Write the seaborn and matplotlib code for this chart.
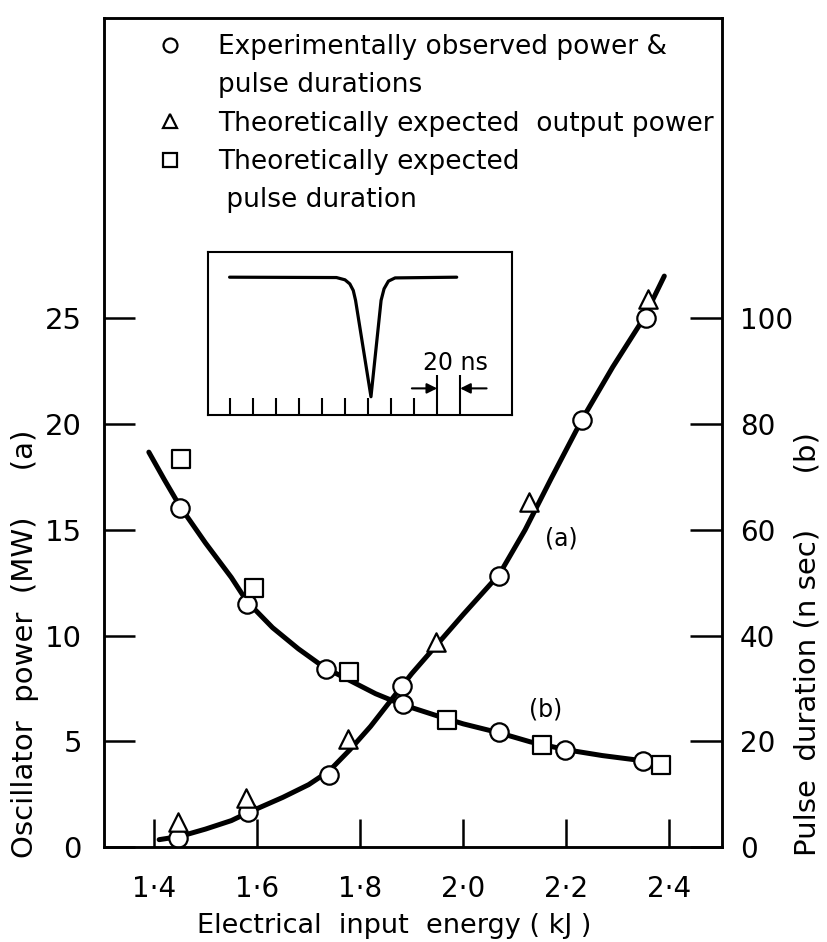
import matplotlib
matplotlib.use('Agg')
import matplotlib.pyplot as plt
import seaborn as sns
from matplotlib.lines import Line2D

# ---- data ----
# (a) oscillator power, MW (left axis)
power_exp_x = [1.447, 1.583, 1.740, 1.882, 2.070, 2.230, 2.355]
power_exp_y = [0.45, 1.65, 3.4, 7.6, 12.8, 20.2, 25.0]
power_theory_x = [1.447, 1.578, 1.777, 1.948, 2.127, 2.358]
power_theory_y = [1.2, 2.3, 5.1, 9.7, 16.3, 25.9]
power_curve_x = [1.41, 1.45, 1.50, 1.55, 1.58, 1.65, 1.70, 1.74, 1.78, 1.82, 1.86,
                 1.90, 1.95, 2.00, 2.07, 2.12, 2.17, 2.23, 2.29, 2.35, 2.39]
power_curve_y = [0.35, 0.50, 0.85, 1.25, 1.6, 2.35, 2.95, 3.6, 4.6, 5.7, 6.95,
                 8.2, 9.6, 11.0, 12.9, 15.0, 17.4, 20.2, 22.7, 25.0, 27.0]

# (b) pulse duration, ns (right axis)
pulse_exp_x = [1.451, 1.580, 1.733, 1.883, 2.070, 2.198, 2.348]
pulse_exp_y = [64.1, 45.9, 33.6, 27.0, 21.8, 18.4, 16.3]
pulse_theory_x = [1.453, 1.594, 1.778, 1.968, 2.152, 2.383]
pulse_theory_y = [73.4, 49.0, 33.1, 24.0, 19.3, 15.5]
pulse_curve_x = [1.39, 1.42, 1.45, 1.50, 1.55, 1.58, 1.63, 1.68, 1.73, 1.78,
                 1.83, 1.88, 1.95, 2.00, 2.07, 2.13, 2.20, 2.27, 2.35]
pulse_curve_y = [74.7, 69.5, 64.5, 57.5, 51.0, 46.5, 41.5, 37.5, 34.0, 31.5,
                 29.0, 27.0, 24.8, 23.3, 21.6, 19.9, 18.4, 17.3, 16.3]

# oscilloscope trace in the inset (time in graticule divisions, normalised signal)
trace_t = [-0.03, 4.62, 4.99, 5.20, 5.35, 5.45, 6.12, 6.56, 6.69, 6.88, 7.17, 9.85]
trace_v = [0, -0.003, -0.022, -0.056, -0.111, -0.194, -1.0, -0.194, -0.097, -0.033, -0.006, 0]

x_ticks = [1.4, 1.6, 1.8, 2.0, 2.2, 2.4]
x_ticklabels = ['1·4', '1·6', '1·8', '2·0', '2·2', '2·4']
power_ticks = [0, 5, 10, 15, 20, 25]
pulse_ticks = [0, 20, 40, 60, 80, 100]

sns.set_theme(style='ticks', rc={'text.color': 'black', 'axes.labelcolor': 'black',
                                 'xtick.color': 'black', 'ytick.color': 'black',
                                 'axes.edgecolor': 'black'})
plt.rcParams['font.family'] = ['DejaVu Sans']
plt.rcParams['axes.linewidth'] = 1.8

fig = plt.figure(figsize=(8.28, 9.42), dpi=100)
ax = fig.add_axes([0.1256, 0.1008, 0.7464, 0.880])
ax2 = ax.twinx()

marker_kw = dict(facecolor='white', edgecolor='black', linewidth=1.6, s=175, zorder=5, legend=False)

sns.lineplot(x=power_curve_x, y=power_curve_y, ax=ax, color='black', lw=3.6, sort=False)
sns.scatterplot(x=power_exp_x, y=power_exp_y, ax=ax, marker='o', **marker_kw)
sns.scatterplot(x=power_theory_x, y=power_theory_y, ax=ax, marker='^', **marker_kw)

sns.lineplot(x=pulse_curve_x, y=pulse_curve_y, ax=ax2, color='black', lw=3.6, sort=False)
sns.scatterplot(x=pulse_exp_x, y=pulse_exp_y, ax=ax2, marker='o', **marker_kw)
sns.scatterplot(x=pulse_theory_x, y=pulse_theory_y, ax=ax2, marker='s', **marker_kw)

ax.set_xlim(1.303, 2.502)
ax.set_ylim(0, 39.2)
ax2.set_ylim(0, 39.2 * 4)

ax.set_xticks(x_ticks)
ax.set_xticklabels(x_ticklabels)
ax.set_yticks(power_ticks)
ax.set_yticklabels([str(t) for t in power_ticks])
ax2.set_yticks(pulse_ticks)
ax2.set_yticklabels([str(t) for t in pulse_ticks])

ax.tick_params(axis='x', direction='in', length=20, width=1.8, labelsize=20, pad=20)
ax.tick_params(axis='y', direction='in', length=22, width=1.8, labelsize=21, pad=16)
ax2.tick_params(axis='y', direction='in', length=23, width=1.8, labelsize=20, pad=13)
for a in (ax, ax2):
    for s in a.spines.values():
        s.set_linewidth(1.8)
        s.set_color('black')

ax.set_xlabel('Electrical  input  energy ( kJ )', fontsize=19.5)
ax.xaxis.set_label_coords(0.47, -0.080)
ax.set_ylabel('Oscillator  power  (MW)     (a)', fontsize=21)
ax.yaxis.set_label_coords(-0.105, 0.245)
ax2.set_ylabel('Pulse  duration (n sec)      (b)', fontsize=21)
ax2.yaxis.set_label_coords(1.115, 0.245)

ax.text(2.19, 14.6, '(a)', fontsize=17, ha='center', va='center')
ax.text(2.16, 6.5, '(b)', fontsize=17, ha='center', va='center')

# legend at the top of the frame
handles = [
    Line2D([], [], ls='none', marker='o', ms=10, mfc='white', mec='black', mew=1.6),
    Line2D([], [], ls='none'),
    Line2D([], [], ls='none', marker='^', ms=10, mfc='white', mec='black', mew=1.6),
    Line2D([], [], ls='none', marker='s', ms=10, mfc='white', mec='black', mew=1.6),
    Line2D([], [], ls='none'),
]
labels = ['Experimentally observed power &', 'pulse durations',
          'Theoretically expected  output power', 'Theoretically expected',
          ' pulse duration']
ax.legend(handles, labels, loc='upper left', bbox_to_anchor=(0.0866, 0.981),
          frameon=False, borderpad=0, borderaxespad=0, handlelength=0.95,
          handletextpad=1.33, labelspacing=0.47, fontsize=19)

# inset oscilloscope trace
axi = fig.add_axes([0.2512, 0.5594, 0.367, 0.173])
sns.lineplot(x=trace_t, y=trace_v, ax=axi, color='black', lw=2.3, sort=False)
axi.set_xlim(-0.97, 12.25)
axi.set_ylim(-1.153, 0.21)
axi.set_xticks(range(9))
axi.set_xticks([9, 10], minor=True)
axi.set_xticklabels([])
axi.set_yticks([])
axi.tick_params(axis='x', which='major', direction='in', length=12, width=1.5, labelbottom=False)
axi.tick_params(axis='x', which='minor', direction='in', length=29, width=1.5, labelbottom=False)
for s in axi.spines.values():
    s.set_linewidth(1.5)
    s.set_color('black')
arrow_kw = dict(arrowstyle='-|>', color='black', lw=1.5, mutation_scale=15, shrinkA=0, shrinkB=0)
axi.annotate('', xy=(9, -0.93), xytext=(7.9, -0.93), arrowprops=arrow_kw)
axi.annotate('', xy=(10, -0.93), xytext=(11.15, -0.93), arrowprops=arrow_kw)
axi.text(9.8, -0.72, '20 ns', fontsize=17, ha='center', va='center')

fig.savefig('out.png', dpi=100)
